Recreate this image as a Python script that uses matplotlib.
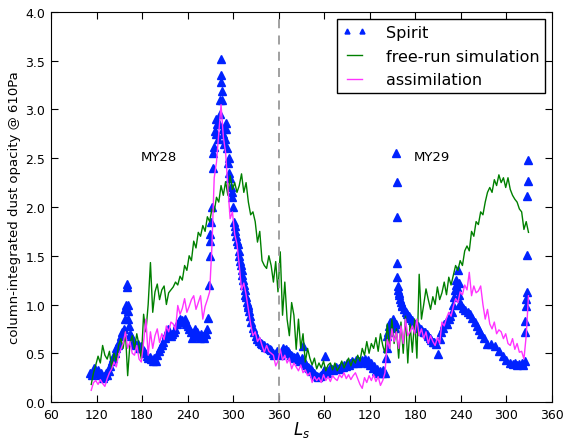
import matplotlib
matplotlib.use("Agg")
import matplotlib.pyplot as plt
import numpy as np

# ----------------------------------------------------------------------
# Data (Ls is continuous: MY28 = 0..360, MY29 = 360..720)
# ----------------------------------------------------------------------

spirit_ls = [
    112, 114, 116, 118, 120, 122, 124, 126, 128, 130, 132, 134, 136, 138, 140,
    142, 144, 146, 148, 150, 152, 154, 156, 157, 158, 159, 160, 160.5, 161, 161.5,
    162, 163, 164, 166, 168, 170, 172, 174, 176, 178, 180, 182, 184, 186, 188,
    190, 192, 194, 196, 198, 200, 202, 204, 206, 208, 210, 212, 214, 216, 218,
    220, 222, 224, 226, 228, 230, 232, 234, 236, 238, 240, 242, 244, 246, 248,
    250, 252, 254, 256, 258, 260, 262, 264, 266, 267, 268, 269, 269.5, 270, 271,
    272, 273, 274, 275, 276, 277, 278, 279, 280, 281, 282, 283, 283.5, 284, 284.5,
    285, 285.5, 286, 287, 288, 289, 290, 291, 292, 293, 294, 295, 296, 297, 298,
    299, 300, 301, 302, 303, 304, 305, 306, 307, 308, 309, 310, 311, 312, 313,
    314, 315, 316, 317, 318, 319, 320, 321, 322, 324, 326, 328, 330, 332, 334,
    336, 338, 340, 342, 344, 346, 348, 350, 352, 354, 356, 358, 360, 362, 364,
    366, 368, 370, 372, 374, 376, 378, 380, 382, 384, 386, 388, 390, 392, 394,
    396, 398, 400, 402, 404, 406, 408, 410, 412, 414, 416, 418, 420, 421, 422,
    424, 426, 428, 430, 432, 434, 436, 438, 440, 442, 444, 446, 448, 450, 452,
    454, 456, 458, 460, 462, 464, 466, 468, 470, 472, 474, 476, 478, 480, 482,
    484, 486, 488, 490, 492, 494, 496, 498, 500, 501, 502, 503, 504, 505, 506,
    508, 510, 511, 512, 513, 514, 515, 515.3, 515.6, 516, 516.3, 516.6, 517, 518, 519,
    520, 521, 522, 523, 525, 527, 529, 531, 533, 535, 537, 539, 541, 543, 545,
    547, 549, 551, 553, 555, 557, 559, 561, 563, 565, 567, 570, 572, 574, 576,
    578, 580, 582, 584, 586, 588, 590, 591, 592, 593, 594, 595, 596, 597, 598,
    599, 600, 603, 606, 609, 612, 615, 618, 621, 624, 627, 630, 635, 640, 645,
    650, 655, 660, 665, 668, 671, 674, 677, 680, 682, 684, 684.5, 685, 685.5, 686,
    686.5, 687, 687.5, 688, 688.5,
]
spirit_tau = [
    0.30, 0.28, 0.35, 0.34, 0.30, 0.33, 0.28, 0.30, 0.25, 0.27, 0.30, 0.28, 0.32, 0.37, 0.42,
    0.45, 0.50, 0.55, 0.58, 0.62, 0.68, 0.72, 0.75, 0.85, 0.95, 1.00, 1.21, 1.18, 0.99, 0.93,
    0.85, 0.78, 0.70, 0.68, 0.62, 0.60, 0.58, 0.60, 0.55, 0.57, 0.55, 0.52, 0.50, 0.47, 0.45,
    0.46, 0.44, 0.42, 0.45, 0.42, 0.48, 0.52, 0.55, 0.58, 0.62, 0.66, 0.70, 0.75, 0.70, 0.68,
    0.70, 0.72, 0.75, 0.80, 0.83, 0.85, 0.84, 0.82, 0.85, 0.80, 0.78, 0.75, 0.72, 0.66, 0.70,
    0.75, 0.72, 0.68, 0.66, 0.70, 0.68, 0.66, 0.70, 0.75, 0.86, 1.20, 1.50, 1.65, 1.72, 1.85,
    2.00, 2.40, 2.55, 2.62, 2.78, 2.90, 2.75, 2.85, 2.70, 2.85, 2.95, 3.10, 3.52, 3.35, 3.28,
    3.19, 3.10, 2.80, 2.75, 2.65, 2.70, 2.86, 2.80, 2.60, 2.45, 2.50, 2.35, 2.30, 2.20, 2.15,
    2.10, 2.00, 1.85, 1.80, 1.75, 1.70, 1.65, 1.62, 1.55, 1.50, 1.45, 1.40, 1.35, 1.30, 1.25,
    1.20, 1.15, 1.10, 1.08, 1.03, 1.00, 0.97, 0.93, 0.88, 0.82, 0.76, 0.72, 0.68, 0.65, 0.63,
    0.61, 0.60, 0.58, 0.56, 0.56, 0.55, 0.54, 0.53, 0.50, 0.48, 0.50, 0.52, 0.50, 0.48, 0.52,
    0.55, 0.53, 0.54, 0.52, 0.50, 0.48, 0.47, 0.46, 0.45, 0.47, 0.44, 0.42, 0.45, 0.57, 0.40,
    0.38, 0.36, 0.35, 0.34, 0.32, 0.30, 0.28, 0.27, 0.26, 0.27, 0.28, 0.30, 0.33, 0.47, 0.32,
    0.30, 0.33, 0.35, 0.34, 0.33, 0.35, 0.36, 0.34, 0.35, 0.37, 0.36, 0.38, 0.37, 0.40, 0.38,
    0.40, 0.42, 0.40, 0.41, 0.43, 0.40, 0.42, 0.41, 0.43, 0.42, 0.44, 0.40, 0.43, 0.38, 0.40,
    0.35, 0.37, 0.32, 0.34, 0.30, 0.32, 0.30, 0.33, 0.30, 0.45, 0.55, 0.68, 0.72, 0.78, 0.82,
    0.80, 0.85, 0.78, 0.82, 0.76, 0.80, 2.55, 2.26, 1.90, 1.43, 1.28, 1.19, 1.15, 1.12, 1.10,
    1.06, 1.03, 1.00, 0.98, 0.95, 0.92, 0.90, 0.88, 0.86, 0.84, 0.82, 0.80, 0.80, 0.78, 0.76,
    0.75, 0.73, 0.72, 0.72, 0.70, 0.68, 0.66, 0.64, 0.62, 0.62, 0.60, 0.49, 0.65, 0.72, 0.76,
    0.80, 0.82, 0.80, 0.85, 0.88, 0.92, 1.00, 1.08, 1.15, 1.20, 1.25, 1.18, 1.35, 1.22, 1.10,
    1.02, 1.00, 0.96, 0.94, 0.92, 0.90, 0.86, 0.82, 0.78, 0.74, 0.70, 0.66, 0.60, 0.60, 0.57,
    0.52, 0.47, 0.43, 0.40, 0.39, 0.40, 0.38, 0.39, 0.40, 0.38, 0.42, 0.72, 0.83, 0.98, 1.06,
    1.13, 1.51, 2.11, 2.27, 2.48,
]

# model output, one value every 3 deg Ls starting at Ls 113
model_ls0 = 113
model_step = 3

free_run = [
    0.18, 0.30, 0.38, 0.47, 0.40, 0.58, 0.48, 0.44, 0.52, 0.34,  # 113-140
    0.50, 0.42, 0.58, 0.65, 0.55, 0.72, 0.27, 0.60, 0.68, 0.55,  # 143-170
    0.70, 0.58, 0.44, 0.90, 0.72, 1.00, 1.43, 0.92, 1.13, 1.21,  # 173-200
    1.05, 1.15, 1.19, 1.00, 1.12, 1.15, 1.18, 1.23, 1.20, 1.29,  # 203-230
    1.25, 1.40, 1.35, 1.50, 1.45, 1.65, 1.58, 1.74, 1.70, 1.81,  # 233-260
    1.75, 1.90, 1.85, 1.98, 1.95, 2.10, 2.05, 2.22, 2.12, 2.26,  # 263-290
    2.12, 2.32, 2.18, 2.25, 2.15, 2.22, 2.34, 2.15, 2.25, 2.05,  # 293-320
    1.92, 1.95, 1.85, 1.64, 1.75, 1.45, 1.40, 1.37, 1.50, 1.40,  # 323-350
    1.23, 1.44, 1.13, 1.54, 0.89, 1.23, 0.85, 0.68, 1.02, 0.89,  # 353-380
    0.54, 0.85, 0.55, 0.70, 0.41, 0.55, 0.45, 0.38, 0.45, 0.34,  # 383-410
    0.40, 0.35, 0.42, 0.32, 0.38, 0.40, 0.33, 0.40, 0.32, 0.36,  # 413-440
    0.42, 0.35, 0.40, 0.45, 0.37, 0.44, 0.40, 0.48, 0.42, 0.55,  # 443-470
    0.48, 0.62, 0.50, 0.60, 0.55, 0.66, 0.52, 0.70, 0.58, 0.50,  # 473-500
    0.80, 0.55, 0.85, 0.60, 0.75, 0.45, 0.82, 0.50, 0.88, 0.40,  # 503-530
    0.80, 0.51, 0.85, 0.45, 1.31, 0.85, 1.00, 1.16, 1.05, 0.95,  # 533-560
    1.08, 1.00, 1.18, 1.05, 1.12, 1.23, 1.10, 1.28, 1.20, 1.30,  # 563-590
    1.40, 1.35, 1.45, 1.40, 1.55, 1.60, 1.55, 1.75, 1.70, 1.85,  # 593-620
    1.82, 1.95, 1.92, 2.05, 2.15, 2.20, 2.15, 2.28, 2.22, 2.33,  # 623-650
    2.25, 2.30, 2.20, 2.30, 2.18, 2.12, 2.08, 2.05, 1.98, 1.95,  # 653-680
    1.77, 1.85, 1.74,                                            # 683-689
]

assim = [
    0.12, 0.20, 0.22, 0.18, 0.23, 0.19, 0.16, 0.24, 0.30, 0.34,  # 113-140
    0.41, 0.36, 0.48, 0.54, 0.60, 0.72, 0.55, 0.62, 0.50, 0.48,  # 143-170
    0.58, 0.44, 0.41, 0.62, 0.85, 0.48, 0.72, 0.55, 0.68, 0.75,  # 173-200
    0.61, 0.70, 0.64, 0.78, 0.72, 0.82, 0.80, 0.74, 0.99, 0.90,  # 203-230
    0.96, 1.06, 0.92, 0.98, 1.05, 1.09, 0.95, 1.02, 1.09, 0.85,  # 233-260
    0.98, 1.05, 1.13, 1.60, 2.30, 2.46, 2.75, 3.05, 2.72, 2.56,  # 263-290
    2.20, 1.88, 1.95, 1.72, 1.62, 1.40, 1.15, 1.22, 1.10, 0.95,  # 293-320
    0.80, 0.68, 0.72, 0.62, 0.66, 0.58, 0.51, 0.58, 0.52, 0.50,  # 323-350
    0.48, 0.37, 0.42, 0.54, 0.43, 0.48, 0.40, 0.45, 0.34, 0.40,  # 353-380
    0.36, 0.32, 0.38, 0.30, 0.33, 0.27, 0.30, 0.20, 0.26, 0.22,  # 383-410
    0.25, 0.20, 0.28, 0.22, 0.26, 0.21, 0.27, 0.24, 0.22, 0.28,  # 413-440
    0.25, 0.30, 0.24, 0.28, 0.23, 0.27, 0.30, 0.24, 0.18, 0.14,  # 443-470
    0.25, 0.20, 0.27, 0.22, 0.28, 0.21, 0.26, 0.17, 0.22, 0.30,  # 473-500
    0.64, 0.55, 0.75, 0.62, 0.72, 0.55, 0.78, 0.60, 0.85, 0.68,  # 503-530
    0.72, 0.78, 0.70, 0.85, 0.68, 0.75, 0.65, 0.72, 0.60, 0.68,  # 533-560
    0.62, 0.58, 0.66, 0.60, 0.82, 0.78, 0.86, 0.92, 0.88, 0.98,  # 563-590
    1.06, 1.02, 1.13, 1.10, 1.20, 1.15, 1.33, 1.09, 1.19, 1.12,  # 593-620
    1.14, 1.19, 1.00, 0.85, 0.95, 0.80, 0.75, 0.82, 0.70, 0.74,  # 623-650
    0.72, 0.65, 0.70, 0.60, 0.58, 0.65, 0.54, 0.60, 0.51, 0.52,  # 653-680
    0.44, 0.68, 1.09,                                            # 683-689
]

xticks = [60, 120, 180, 240, 300, 360, 420, 480, 540, 600, 660, 720]
xtick_labels = ["60", "120", "180", "240", "300", "360",
                "60", "120", "180", "240", "300", "360"]
yticks = [0.0, 0.5, 1.0, 1.5, 2.0, 2.5, 3.0, 3.5, 4.0]

# ----------------------------------------------------------------------
# Plot
# ----------------------------------------------------------------------

model_ls = model_ls0 + model_step * np.arange(len(free_run))
assim_ls = model_ls0 + model_step * np.arange(len(assim))

fig = plt.figure(figsize=(5.66, 4.39), dpi=100)
ax = fig.add_axes([0.0901, 0.082, 0.8852, 0.8884])

ax.plot(spirit_ls, spirit_tau, linestyle="none", marker="^", color="#0022ff",
        markeredgecolor="#0022ff", markersize=5.5, label="Spirit")
ax.plot(model_ls, free_run, color="green", lw=1.0, label="free-run simulation")
ax.plot(assim_ls, assim, color="#ff33ff", lw=1.0, label="assimilation")

ax.axvline(360, color="#999999", linestyle="--", lw=1.3, dashes=(5, 4))

ax.text(202, 2.52, "MY28", fontsize=9.5, ha="center", va="center")
ax.text(562, 2.52, "MY29", fontsize=9.5, ha="center", va="center")

ax.set_xlim(60, 720)
ax.set_ylim(0, 4)
ax.set_xticks(xticks)
ax.set_xticklabels(xtick_labels)
ax.set_yticks(yticks)
ax.set_yticklabels([f"{v:.1f}" for v in yticks])
ax.tick_params(direction="in", top=True, right=True, labelsize=9, length=5, pad=4)

ax.set_xlabel("$L_s$", fontsize=12, labelpad=-1)
ax.set_ylabel("column-integrated dust opacity @ 610Pa", fontsize=9.5, labelpad=3)

leg = ax.legend(loc="upper right", numpoints=2, fancybox=False, framealpha=1,
                edgecolor="black", fontsize=11.5, handlelength=1.5,
                handletextpad=1.2, borderpad=0.35, labelspacing=0.55,
                markerscale=0.65, borderaxespad=0.45)
leg.get_frame().set_linewidth(1.0)

fig.savefig("out.png", dpi=100)
